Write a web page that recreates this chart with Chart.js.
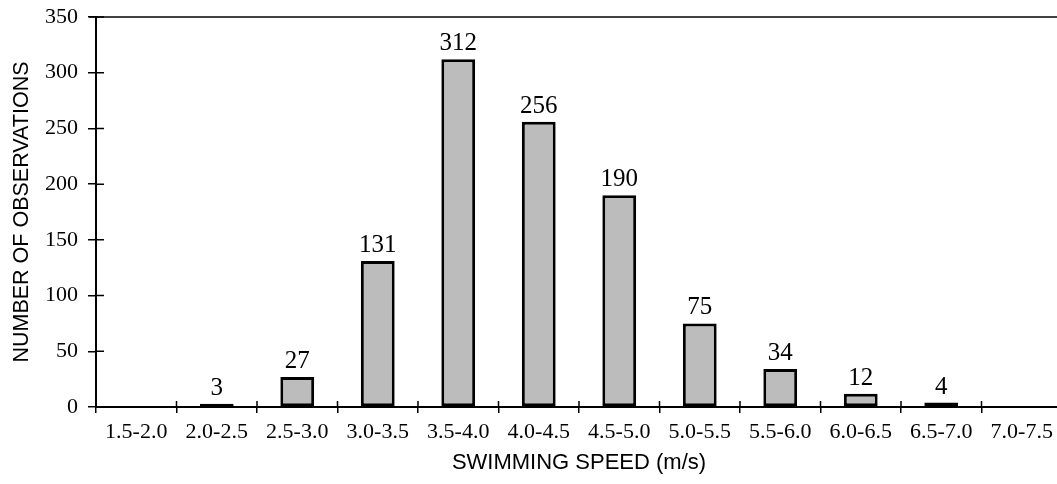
<!DOCTYPE html>
<html>
<head>
<meta charset="utf-8">
<script src="https://cdn.jsdelivr.net/npm/chart.js@4"></script>
<style>
  html, body { margin: 0; padding: 0; background: #fff; overflow: hidden; }
  #wrap { width: 1062px; height: 484px; }
</style>
</head>
<body>
<div id="wrap"><canvas id="chart" width="1062" height="484"></canvas></div>
<script>
const speedBins = ["1.5-2.0", "2.0-2.5", "2.5-3.0", "3.0-3.5", "3.5-4.0", "4.0-4.5",
  "4.5-5.0", "5.0-5.5", "5.5-6.0", "6.0-6.5", "6.5-7.0", "7.0-7.5"];
const observations = [0, 3, 27, 131, 312, 256, 190, 75, 34, 12, 4, 0];
const yTicks = [0, 50, 100, 150, 200, 250, 300, 350];

const serif = "'Liberation Serif', 'Times New Roman', serif";
const sans = "'Liberation Sans', Arial, sans-serif";

// value labels above bars, inner tick marks and the top frame line
const extras = {
  id: "extras",
  afterDatasetsDraw(chart) {
    const ctx = chart.ctx;
    const area = chart.chartArea;
    const x = chart.scales.x;
    const y = chart.scales.y;
    ctx.save();
    ctx.strokeStyle = "#000";
    ctx.lineWidth = 1.5;
    ctx.beginPath();
    ctx.moveTo(area.left - 7, area.top);
    ctx.lineTo(area.right, area.top);
    ctx.stroke();

    ctx.beginPath();
    y.ticks.forEach((t, i) => {
      const py = y.getPixelForTick(i);
      ctx.moveTo(area.left, py);
      ctx.lineTo(area.left + 8, py);
    });
    const step = x.getPixelForTick(1) - x.getPixelForTick(0);
    for (let i = 1; i < speedBins.length; i++) {
      const px = x.getPixelForTick(i) - step / 2;
      ctx.moveTo(px, area.bottom);
      ctx.lineTo(px, area.bottom - 6);
    }
    ctx.stroke();

    ctx.fillStyle = "#000";
    ctx.font = "25px " + serif;
    ctx.textAlign = "center";
    ctx.textBaseline = "alphabetic";
    chart.getDatasetMeta(0).data.forEach((bar, i) => {
      const v = observations[i];
      if (!v) return;
      ctx.fillText(String(v), bar.x, bar.y - 9);
    });
    ctx.restore();
  }
};

new Chart(document.getElementById("chart"), {
  type: "bar",
  data: {
    labels: speedBins,
    datasets: [{
      data: observations,
      backgroundColor: "#bcbcbc",
      borderColor: "#000",
      borderWidth: 3,
      borderSkipped: false,
      barPercentage: 0.42,
      categoryPercentage: 1
    }]
  },
  options: {
    responsive: false,
    animation: false,
    layout: { padding: { top: 17, right: 0, left: 0, bottom: 0 } },
    plugins: {
      legend: { display: false },
      tooltip: { enabled: false }
    },
    scales: {
      x: {
        grid: { drawOnChartArea: false, drawTicks: true, tickLength: 6, color: "#000", lineWidth: 1.5 },
        border: { color: "#000", width: 2 },
        ticks: { color: "#000", font: { family: serif, size: 22 }, padding: 6, maxRotation: 0, autoSkip: false },
        title: {
          display: true,
          text: "SWIMMING SPEED (m/s)",
          color: "#000",
          font: { family: sans, size: 22 },
          padding: { top: 0, bottom: 8 }
        },
        afterFit(scale) {
          scale.height = 77;
          scale.paddingLeft = 0;
          scale.paddingRight = 0;
        }
      },
      y: {
        min: 0,
        max: 350,
        afterBuildTicks(scale) { scale.ticks = yTicks.map(v => ({ value: v })); },
        grid: { drawOnChartArea: false, drawTicks: true, tickLength: 8, color: "#000", lineWidth: 1.5 },
        border: { color: "#000", width: 2 },
        ticks: { color: "#000", font: { family: serif, size: 22 }, padding: 10 },
        title: {
          display: true,
          text: "NUMBER OF OBSERVATIONS",
          color: "#000",
          font: { family: sans, size: 21.5 },
          padding: { top: 9, bottom: 0 }
        },
        afterFit(scale) {
          scale.width = 96;
          scale.paddingTop = 0;
          scale.paddingBottom = 0;
        }
      }
    }
  },
  plugins: [extras]
});
</script>
</body>
</html>
